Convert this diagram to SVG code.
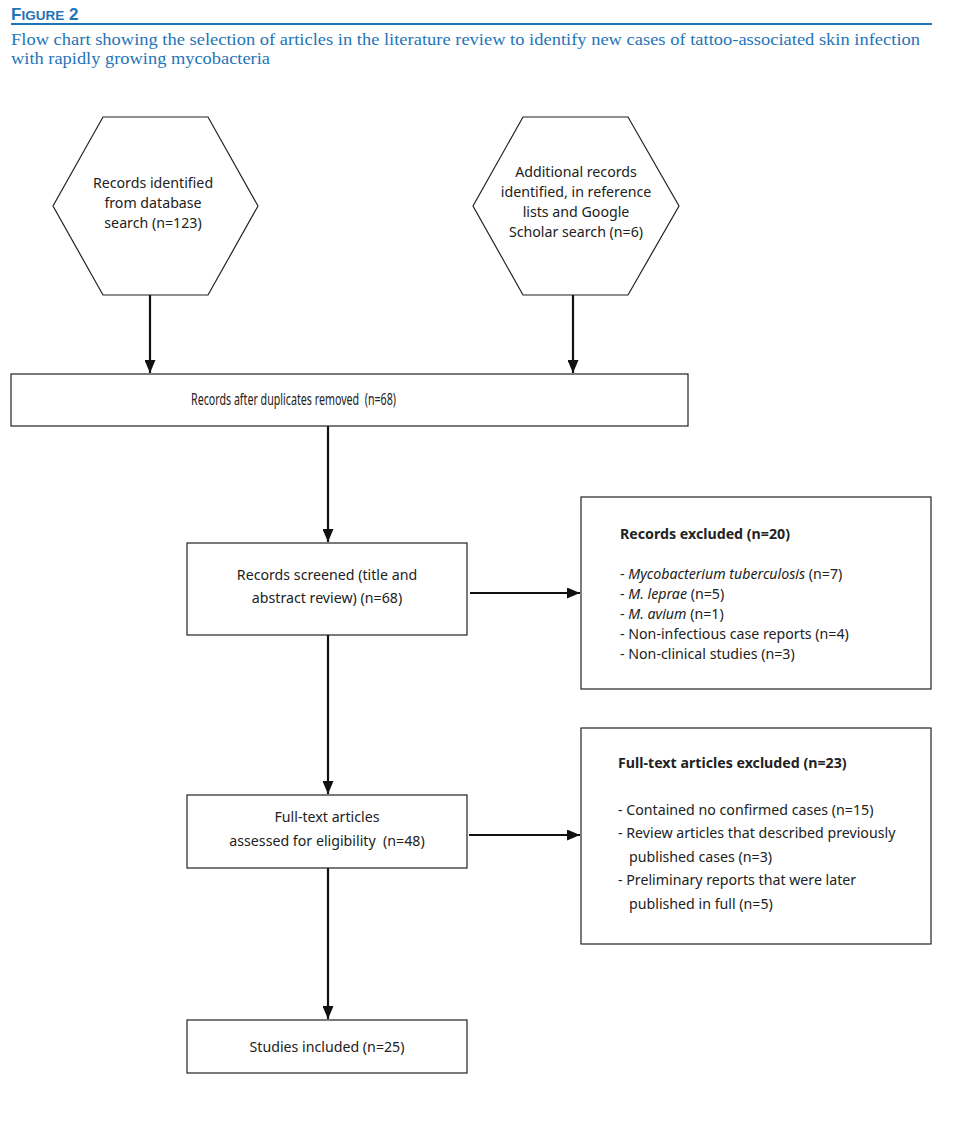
<svg xmlns="http://www.w3.org/2000/svg" width="956" height="1141" viewBox="0 0 956 1141">
<style>
.bg{fill:#fff}
.shape{fill:#fff;stroke:#222;stroke-width:1.2}
.t{font-family:"Noto Sans","Open Sans",sans-serif;font-size:14.2px;fill:#222}
.c{text-anchor:middle}
.b{font-weight:bold}
.i{font-style:italic}
.conn{stroke:#111;stroke-width:2.2;fill:none}
.head{font-family:"Liberation Sans",sans-serif;font-weight:bold;fill:#1f74b8}
.sub{font-family:"Liberation Serif",serif;font-size:16px;fill:#1f74b8}
</style>
<defs>
<marker id="arr" viewBox="0 0 13 11" refX="13" refY="5.5" markerWidth="13" markerHeight="11" markerUnits="userSpaceOnUse" orient="auto">
<path d="M0,0 L13,5.5 L0,11 z" fill="#111"/>
</marker>
</defs>
<rect class="bg" width="956" height="1141"/>
<g id="header">
<text class="head" x="11" y="20"><tspan font-size="17">F</tspan><tspan font-size="13.5">IGURE</tspan><tspan font-size="17"> 2</tspan></text>
<line x1="11" y1="24" x2="932" y2="24" stroke="#1f74b8" stroke-width="2"/>
<text class="sub" x="11" y="45" textLength="909" lengthAdjust="spacingAndGlyphs">Flow chart showing the selection of articles in the literature review to identify new cases of tattoo-associated skin infection</text>
<text class="sub" x="11" y="64" textLength="259" lengthAdjust="spacingAndGlyphs">with rapidly growing mycobacteria</text>
</g>
<g id="connectors">
<line class="conn" x1="150" y1="295" x2="150" y2="373" marker-end="url(#arr)"/>
<line class="conn" x1="573" y1="295" x2="573" y2="373" marker-end="url(#arr)"/>
<line class="conn" x1="328" y1="426" x2="328" y2="542" marker-end="url(#arr)"/>
<line class="conn" x1="470" y1="593" x2="580" y2="593" marker-end="url(#arr)"/>
<line class="conn" x1="328" y1="635" x2="328" y2="794" marker-end="url(#arr)"/>
<line class="conn" x1="469" y1="835" x2="580" y2="835" marker-end="url(#arr)"/>
<line class="conn" x1="328" y1="868" x2="328" y2="1019" marker-end="url(#arr)"/>
</g>
<g id="hex1">
<polygon class="shape" points="103,117 208,117 258,206 208,295 103,295 53,206"/>
<text class="t c" x="153" y="188">Records identified</text>
<text class="t c" x="153" y="208">from database</text>
<text class="t c" x="153" y="228">search (n=123)</text>
</g>
<g id="hex2">
<polygon class="shape" points="523,117 628,117 679,206 628,295 523,295 473,206"/>
<text class="t c" x="576" y="177">Additional records</text>
<text class="t c" x="576" y="197">identified, in reference</text>
<text class="t c" x="576" y="217">lists and Google</text>
<text class="t c" x="576" y="237">Scholar search (n=6)</text>
</g>
<g id="dedup">
<rect class="shape" x="11" y="374" width="677" height="52"/>
<text class="t" x="191" y="405" style="font-size:15.5px" textLength="205" lengthAdjust="spacingAndGlyphs">Records after duplicates removed&#160; (n=68)</text>
</g>
<g id="screened">
<rect class="shape" x="187" y="543" width="280" height="92"/>
<text class="t c" x="327" y="580">Records screened (title and</text>
<text class="t c" x="327" y="603">abstract review) (n=68)</text>
</g>
<g id="excluded1">
<rect class="shape" x="581" y="497" width="350" height="192"/>
<text class="t b" x="620" y="539">Records excluded (n=20)</text>
<text class="t" x="620" y="579">- <tspan class="i">Mycobacterium tuberculosis</tspan> (n=7)</text>
<text class="t" x="620" y="599">- <tspan class="i">M. leprae</tspan> (n=5)</text>
<text class="t" x="620" y="619">- <tspan class="i">M. avium</tspan> (n=1)</text>
<text class="t" x="620" y="639">- Non-infectious case reports (n=4)</text>
<text class="t" x="620" y="659">- Non-clinical studies (n=3)</text>
</g>
<g id="fulltext">
<rect class="shape" x="187" y="795" width="280" height="73"/>
<text class="t c" x="327" y="822">Full-text articles</text>
<text class="t c" x="327" y="846">assessed for eligibility&#160; (n=48)</text>
</g>
<g id="excluded2">
<rect class="shape" x="581" y="728" width="350" height="216"/>
<text class="t b" x="618" y="768">Full-text articles excluded (n=23)</text>
<text class="t" x="618" y="815">- Contained no confirmed cases (n=15)</text>
<text class="t" x="618" y="838">- Review articles that described previously</text>
<text class="t" x="629" y="862">published cases (n=3)</text>
<text class="t" x="618" y="885">- Preliminary reports that were later</text>
<text class="t" x="629" y="909">published in full (n=5)</text>
</g>
<g id="included">
<rect class="shape" x="187" y="1020" width="280" height="53"/>
<text class="t c" x="327" y="1052">Studies included (n=25)</text>
</g>
</svg>
